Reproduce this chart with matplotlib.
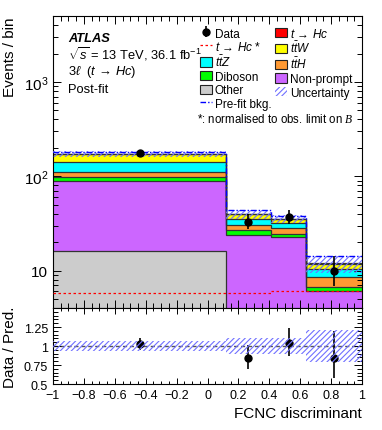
import numpy as np
import matplotlib
matplotlib.use("Agg")
import matplotlib.pyplot as plt
from matplotlib.patches import Patch, Rectangle
from matplotlib.lines import Line2D
from matplotlib.legend_handler import HandlerPatch
from matplotlib.ticker import MultipleLocator, FixedLocator, FixedFormatter, LogLocator, NullFormatter

plt.rcParams['font.family'] = ['Liberation Sans', 'DejaVu Sans']
plt.rcParams['mathtext.fontset'] = 'custom'
plt.rcParams['mathtext.rm'] = 'Liberation Sans'
plt.rcParams['mathtext.it'] = 'Liberation Sans:italic'
plt.rcParams['mathtext.bf'] = 'Liberation Sans:bold'
plt.rcParams['mathtext.cal'] = 'Liberation Serif:italic'
plt.rcParams['hatch.linewidth'] = 0.8

# FCNC discriminant binning
edges = [-1.0, 0.12, 0.41, 0.64, 1.0]

# post-fit backgrounds, bottom to top of the stack
other = [16.0, 2.0, 1.8, 0.6]
nonprompt = [72.0, 21.6, 20.6, 5.44]
diboson = [9.0, 3.1, 2.2, 0.68]
tth = [15.0, 4.0, 3.7, 1.86]
ttz = [31.0, 4.8, 3.9, 1.92]
ttw = [29.0, 3.9, 3.3, 1.36]
signal = [0.05, 0.05, 0.05, 0.05]

# t -> Hc normalised to observed limit (red dashed)
signal_lim = [5.8, 5.8, 6.0, 6.0]
prefit = [180.0, 43.5, 37.5, 14.2]
rel_unc = [0.07, 0.10, 0.10, 0.21]

data = [176, 33, 37, 10]
data_up = [14.3, 6.8, 7.1, 4.3]
data_dn = [13.3, 5.7, 6.0, 3.1]

ytick_vals = [10, 100, 1000]
ytick_labels = ['10', '$10^2$', '$10^3$']
rtick_vals = [0.5, 0.75, 1.0, 1.25]
rtick_labels = ['0.5', '0.75', '1', '1.25']
xtick_vals = [-1, -0.8, -0.6, -0.4, -0.2, 0, 0.2, 0.4, 0.6, 0.8, 1]
xtick_labels = ['\u22121', '\u22120.8', '\u22120.6', '\u22120.4', '\u22120.2', '0',
                '0.2', '0.4', '0.6', '0.8', '1']

layers = [
    ('Other', other, '#cccccc'),
    ('Non-prompt', nonprompt, '#cc66ff'),
    ('Diboson', diboson, '#00ff00'),
    (r'$t\bar{t}H$', tth, '#ff9933'),
    (r'$t\bar{t}Z$', ttz, '#00ffff'),
    (r'$t\bar{t}W$', ttw, '#ffff00'),
    (r'$t\,\rightarrow\,Hc$', signal, '#ff0000'),
]
colors = {name: col for name, vals, col in layers}
unc_color = '#7070ff'
line_color = '#333333'

edges = np.array(edges)
centers = 0.5 * (edges[1:] + edges[:-1])

fig = plt.figure(figsize=(3.82, 4.31), dpi=100)
ax = fig.add_axes([0.1387, 0.283, 0.809, 0.6775])
rax = fig.add_axes([0.1387, 0.1067, 0.809, 0.1763], sharex=ax)

# stacked backgrounds
bottom = np.full(4, 1e-3)
tops = []
for name, vals, col in layers:
    top = bottom + np.array(vals)
    ax.stairs(top, edges, baseline=bottom, fill=True, facecolor=col, edgecolor='none', lw=0, zorder=1)
    tops.append(top)
    bottom = top
for top in tops:
    ax.stairs(top, edges, baseline=None, color=line_color, lw=0.9, zorder=2)
total = bottom
unc = np.array(rel_unc)

ax.stairs(total * (1 + unc), edges, baseline=total * (1 - unc), fill=True, facecolor='none',
          edgecolor=unc_color, hatch='//////', lw=0, zorder=3)
ax.stairs(prefit, edges, baseline=None, color='#0000ff', lw=1.0, ls=(0, (4, 1.5, 1, 1.5)), zorder=4)
ax.stairs(signal_lim, edges, baseline=None, color='#ff0000', lw=0.9, ls=(0, (2, 2)), zorder=4)
data_h = ax.errorbar(centers, data, yerr=[data_dn, data_up], fmt='o', color='black', ms=5,
                     elinewidth=1.2, capsize=0, zorder=5)

ax.set_yscale('log')
ax.set_ylim(4, 5000)
ax.set_xlim(-1, 1)
ax.yaxis.set_major_locator(FixedLocator(ytick_vals))
ax.yaxis.set_major_formatter(FixedFormatter(ytick_labels))
ax.yaxis.set_minor_locator(LogLocator(base=10, subs=np.arange(2, 10)))
ax.yaxis.set_minor_formatter(NullFormatter())
ax.xaxis.set_major_locator(FixedLocator(xtick_vals))
ax.xaxis.set_minor_locator(MultipleLocator(0.05))
ax.tick_params(axis='x', labelbottom=False)
ax.tick_params(which='both', direction='in', top=True, right=True, width=0.7)
ax.tick_params(which='major', length=6, labelsize=11)
ax.tick_params(which='minor', length=3.5)
ax.set_ylabel('Events / bin', loc='top', fontsize=11)
ax.yaxis.set_label_coords(-0.118, 1.0)

ax.text(0.0485, 0.915, 'ATLAS', transform=ax.transAxes, fontsize=9.3, fontweight='bold', style='italic')
ax.text(0.0485, 0.856, r'$\sqrt{s}$ = 13 TeV, 36.1 fb$^{-1}$', transform=ax.transAxes, fontsize=9.3)
ax.text(0.0485, 0.801, r'3$\ell$  ($t\,\rightarrow\,Hc$)', transform=ax.transAxes, fontsize=9.3)
ax.text(0.0485, 0.740, 'Post-fit', transform=ax.transAxes, fontsize=9.3)


# legend boxes a bit smaller than the row height
def small_box(legend, orig_handle, xdescent, ydescent, width, height, fontsize):
    h = 0.78 * height
    return Rectangle((-xdescent, -ydescent + (height - h) / 2), width, h)


def box(col):
    return Patch(facecolor=col, edgecolor='#222222', lw=0.8)


unc_patch = Patch(facecolor='none', edgecolor=unc_color, hatch='//////', lw=0)
handles = [
    data_h,
    Line2D([], [], color='#ff0000', lw=0.9, ls=(0, (2, 2))),
    box(colors[r'$t\bar{t}Z$']), box(colors['Diboson']), box(colors['Other']),
    Line2D([], [], color='#0000ff', lw=1.0, ls=(0, (4, 1.5, 1, 1.5))),
    box(colors[r'$t\,\rightarrow\,Hc$']), box(colors[r'$t\bar{t}W$']), box(colors[r'$t\bar{t}H$']),
    box(colors['Non-prompt']), unc_patch,
]
labels = ['Data', r'$t\,\rightarrow\,Hc$ *', r'$t\bar{t}Z$', 'Diboson', 'Other', 'Pre-fit bkg.',
          r'$t\,\rightarrow\,Hc$', r'$t\bar{t}W$', r'$t\bar{t}H$', 'Non-prompt', 'Uncertainty']
ax.legend(handles, labels, ncol=2, loc='upper left', bbox_to_anchor=(0.476, 0.964), frameon=False,
          fontsize=8.5, borderpad=0, borderaxespad=0, handlelength=1.05, handleheight=1.2,
          handletextpad=0.2, labelspacing=0.05, columnspacing=0.3,
          handler_map={Patch: HandlerPatch(patch_func=small_box)})
ax.text(0.466, 0.638, r'*: normalised to obs. limit on $\mathcal{B}$', transform=ax.transAxes, fontsize=8.3)

# ratio panel
ratio = np.array(data) / total
ratio_up = np.array(data_up) / total
ratio_dn = np.array(data_dn) / total
rax.axhline(1.0, color='#555555', lw=1.0, ls=(0, (3, 2)), zorder=1)
rax.errorbar(centers, ratio, yerr=[ratio_dn, ratio_up], fmt='o', color='black', ms=5,
             elinewidth=1.2, capsize=0, zorder=2)
rax.stairs(1 + unc, edges, baseline=1 - unc, fill=True, facecolor='none', edgecolor=unc_color,
           hatch='//////', lw=0, zorder=3)
rax.set_ylim(0.5, 1.5)
rax.set_xlim(-1, 1)
rax.yaxis.set_major_locator(FixedLocator(rtick_vals))
rax.yaxis.set_major_formatter(FixedFormatter(rtick_labels))
rax.yaxis.set_minor_locator(MultipleLocator(0.05))
rax.xaxis.set_major_locator(FixedLocator(xtick_vals))
rax.xaxis.set_major_formatter(FixedFormatter(xtick_labels))
rax.xaxis.set_minor_locator(MultipleLocator(0.05))
rax.tick_params(which='both', direction='in', top=True, right=True, width=0.7, labelsize=9)
rax.tick_params(axis='y', which='major', length=6)
rax.tick_params(axis='y', which='minor', length=3.5)
rax.tick_params(axis='x', which='major', length=4.5)
rax.tick_params(axis='x', which='minor', length=2.5)
rax.set_ylabel('Data / Pred.', fontsize=11)
rax.yaxis.set_label_coords(-0.118, 0.5)
rax.set_xlabel('FCNC discriminant', loc='right', fontsize=11)

for a in (ax, rax):
    for s in a.spines.values():
        s.set_linewidth(0.8)

fig.savefig('out.png', dpi=100)
